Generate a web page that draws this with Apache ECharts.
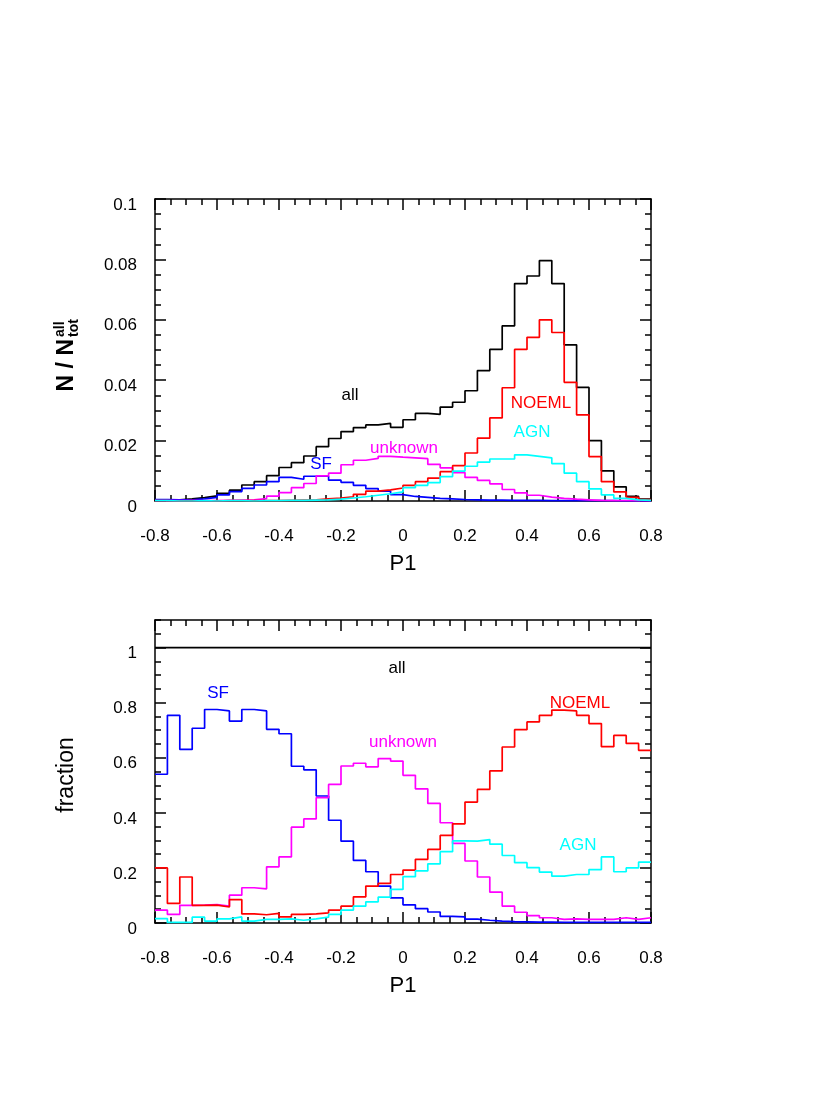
<!DOCTYPE html>
<html>
<head>
<meta charset="utf-8">
<title>P1 histograms</title>
<script src="https://cdn.jsdelivr.net/npm/echarts@6/dist/echarts.min.js"></script>
<style>
  html, body { margin: 0; padding: 0; background: #fff; }
  #chart { width: 830px; height: 1106px; }
</style>
</head>
<body>
<div id="chart"></div>
<script>
// bins of width 0.04 from -0.8 to 0.8 (left edges)
const binLeft = Array.from({ length: 40 }, (_, i) => +(-0.8 + 0.04 * i).toFixed(2))

// top panel: N / N_tot^all
const allTop = [0.0003, 0.0004, 0.0007, 0.0011, 0.0017, 0.0025, 0.0036, 0.0053, 0.0064, 0.0084,
  0.0111, 0.0127, 0.0149, 0.0180, 0.0207, 0.0230, 0.0243, 0.0252, 0.0257, 0.0244,
  0.0269, 0.0290, 0.0287, 0.0311, 0.0327, 0.0365, 0.0432, 0.0502, 0.0580, 0.0720,
  0.0745, 0.0796, 0.0720, 0.0517, 0.0376, 0.0200, 0.0100, 0.0047, 0.0015, 0.0006]
const sfTop = [0.0005, 0.0004, 0.0004, 0.0007, 0.0012, 0.0020, 0.0031, 0.0042, 0.0053, 0.0064,
  0.0078, 0.0072, 0.0082, 0.0082, 0.0069, 0.0062, 0.0052, 0.0041, 0.0033, 0.0021,
  0.0015, 0.0012, 0.0009, 0.0007, 0.0005, 0.0004, 0.0003, 0.0003, 0.0002, 0.0002,
  0.0002, 0.0001, 0.0001, 0.0001, 0.0001, 0.0001, 0.0001, 0.0000, 0.0000, 0.0000]
const unknownTop = [0.0001, 0.0001, 0.0001, 0.0001, 0.0001, 0.0002, 0.0003, 0.0004, 0.0008, 0.0016,
  0.0028, 0.0044, 0.0058, 0.0083, 0.0092, 0.0120, 0.0135, 0.0141, 0.0148, 0.0145,
  0.0143, 0.0140, 0.0121, 0.0110, 0.0094, 0.0078, 0.0068, 0.0057, 0.0038, 0.0027,
  0.0019, 0.0013, 0.0009, 0.0006, 0.0004, 0.0002, 0.0001, 0.0001, 0.0001, 0.0001]
const noemlTop = [0.0001, 0.0000, 0.0001, 0.0000, 0.0000, 0.0001, 0.0001, 0.0001, 0.0001, 0.0001,
  0.0002, 0.0003, 0.0004, 0.0007, 0.0010, 0.0014, 0.0022, 0.0033, 0.0037, 0.0043,
  0.0052, 0.0064, 0.0076, 0.0097, 0.0117, 0.0159, 0.0208, 0.0275, 0.0375, 0.0502,
  0.0542, 0.0600, 0.0558, 0.0393, 0.0285, 0.0147, 0.0064, 0.0030, 0.0012, 0.0005]
const agnTop = [0.0001, 0.0000, 0.0000, 0.0001, 0.0000, 0.0001, 0.0001, 0.0000, 0.0001, 0.0001,
  0.0002, 0.0002, 0.0003, 0.0004, 0.0006, 0.0010, 0.0014, 0.0019, 0.0024, 0.0030,
  0.0044, 0.0052, 0.0061, 0.0081, 0.0099, 0.0115, 0.0129, 0.0139, 0.0139, 0.0153,
  0.0148, 0.0143, 0.0124, 0.0092, 0.0064, 0.0040, 0.0020, 0.0009, 0.0004, 0.0002]

// bottom panel: fraction
const allFrac = [1, 1, 1, 1, 1, 1, 1, 1, 1, 1, 1, 1, 1, 1, 1, 1, 1, 1, 1, 1,
  1, 1, 1, 1, 1, 1, 1, 1, 1, 1, 1, 1, 1, 1, 1, 1, 1, 1, 1, 1]
const sfFrac = [0.540, 0.754, 0.630, 0.707, 0.775, 0.770, 0.733, 0.775, 0.770, 0.703,
  0.687, 0.569, 0.556, 0.461, 0.373, 0.297, 0.227, 0.186, 0.134, 0.091,
  0.066, 0.052, 0.040, 0.024, 0.022, 0.014, 0.010, 0.007, 0.005, 0.004,
  0.003, 0.003, 0.002, 0.002, 0.002, 0.002, 0.002, 0.002, 0.002, 0.002]
const unknownFrac = [0.047, 0.031, 0.064, 0.065, 0.067, 0.061, 0.101, 0.128, 0.124, 0.204,
  0.240, 0.348, 0.378, 0.455, 0.503, 0.570, 0.580, 0.567, 0.597, 0.588,
  0.536, 0.487, 0.434, 0.364, 0.289, 0.225, 0.167, 0.112, 0.061, 0.039,
  0.027, 0.019, 0.013, 0.015, 0.013, 0.013, 0.013, 0.019, 0.013, 0.019]
const noemlFrac = [0.200, 0.071, 0.167, 0.064, 0.065, 0.058, 0.085, 0.033, 0.030, 0.035,
  0.022, 0.031, 0.033, 0.037, 0.047, 0.061, 0.095, 0.134, 0.144, 0.176,
  0.192, 0.231, 0.267, 0.318, 0.360, 0.439, 0.485, 0.552, 0.639, 0.702,
  0.730, 0.754, 0.773, 0.770, 0.754, 0.724, 0.640, 0.681, 0.652, 0.627]
const agnFrac = [0.016, 0.002, 0.002, 0.021, 0.007, 0.015, 0.022, 0.007, 0.013, 0.013,
  0.015, 0.010, 0.015, 0.021, 0.031, 0.047, 0.061, 0.077, 0.094, 0.122,
  0.168, 0.189, 0.215, 0.259, 0.298, 0.297, 0.303, 0.286, 0.245, 0.219,
  0.201, 0.185, 0.170, 0.176, 0.176, 0.194, 0.240, 0.186, 0.200, 0.221]

const FONT = '"Liberation Sans", Helvetica, Arial, sans-serif'
const COLORS = { all: '#000000', sf: '#0000ff', unknown: '#ff00ff', noeml: '#ff0000', agn: '#00ffff' }

// histogram steps: left edges + closing point at the right edge
function steps(vals) {
  const pts = binLeft.map((x, i) => [x, vals[i]])
  pts.push([0.8, vals[vals.length - 1]])
  return pts
}

function histSeries(name, vals, color, xi, yi) {
  return {
    name: name,
    type: 'line',
    step: 'end',
    symbol: 'none',
    xAxisIndex: xi,
    yAxisIndex: yi,
    lineStyle: { color: color, width: 1.7 },
    data: steps(vals),
  }
}

const lineBlack = { show: true, onZero: false, lineStyle: { color: '#000', width: 1.5 } }
const lineHidden = { show: false, onZero: false }

function xAx(grid, pos, withLabels) {
  return {
    type: 'value', gridIndex: grid, position: pos,
    min: -0.8, max: 0.8, interval: 0.2,
    axisLine: lineBlack,
    axisTick: { show: true, inside: true, length: 11, lineStyle: { color: '#000', width: 1.5 } },
    minorTick: { show: true, splitNumber: 4, length: 6, lineStyle: { color: '#000', width: 1.5 } },
    splitLine: { show: false },
    axisLabel: { show: withLabels, color: '#000', fontFamily: FONT, fontSize: 17, margin: 27 },
    name: withLabels ? 'P1' : '',
    nameLocation: 'middle',
    nameGap: 52,
    nameTextStyle: { color: '#000', fontFamily: FONT, fontSize: 22 },
  }
}

function yAx(grid, pos, withLabels, max, interval, minor, tickLen, showLine) {
  return {
    type: 'value', gridIndex: grid, position: pos,
    min: 0, max: max, interval: interval,
    axisLine: showLine ? lineBlack : lineHidden,
    axisTick: { show: true, inside: true, length: tickLen, lineStyle: { color: '#000', width: 1.5 } },
    minorTick: { show: minor, splitNumber: 4, length: 6, lineStyle: { color: '#000', width: 1.5 } },
    splitLine: { show: false },
    axisLabel: {
      show: withLabels, color: '#000', fontFamily: FONT, fontSize: 17, margin: 18,
      showMaxLabel: max === 0.1,
      // labels sit a little below their ticks, as in the original
      verticalAlign: 'top', lineHeight: 12,
    },
  }
}

function note(text, x, y, color) {
  return {
    type: 'text', x: x, y: y, z: 50,
    style: { text: text, fill: color, font: '17px ' + FONT, align: 'center', verticalAlign: 'middle' },
  }
}

const chart = echarts.init(document.getElementById('chart'))
chart.setOption({
  animation: false,
  backgroundColor: '#fff',
  grid: [
    { left: 155, top: 199, width: 496, height: 302 },
    { left: 155, top: 620, width: 496, height: 303 },
  ],
  xAxis: [
    xAx(0, 'bottom', true),
    xAx(0, 'top', false),
    xAx(1, 'bottom', true),
    xAx(1, 'top', false),
  ],
  yAxis: [
    yAx(0, 'left', true, 0.1, 0.02, true, 11, true),
    yAx(0, 'right', false, 0.1, 0.02, true, 11, true),
    yAx(1, 'left', true, 1.1, 0.2, false, 11, true),
    yAx(1, 'right', false, 1.1, 0.2, false, 11, true),
    // short ticks every 0.05 on the fraction panel
    yAx(1, 'left', false, 1.1, 0.05, false, 6, false),
    yAx(1, 'right', false, 1.1, 0.05, false, 6, false),
  ],
  series: [
    histSeries('all', allTop, COLORS.all, 0, 0),
    histSeries('SF', sfTop, COLORS.sf, 0, 0),
    histSeries('unknown', unknownTop, COLORS.unknown, 0, 0),
    histSeries('NOEML', noemlTop, COLORS.noeml, 0, 0),
    histSeries('AGN', agnTop, COLORS.agn, 0, 0),
    histSeries('all', allFrac, COLORS.all, 2, 2),
    histSeries('SF', sfFrac, COLORS.sf, 2, 2),
    histSeries('unknown', unknownFrac, COLORS.unknown, 2, 2),
    histSeries('NOEML', noemlFrac, COLORS.noeml, 2, 2),
    histSeries('AGN', agnFrac, COLORS.agn, 2, 2),
  ],
  graphic: [
    // y title, top panel: N / N_tot^all
    {
      type: 'group', x: 67, y: 357, rotation: Math.PI / 2,
      children: [
        { type: 'text', x: 18, y: 0, style: { text: 'N / N', fill: '#000', font: 'bold 23px ' + FONT, align: 'right', verticalAlign: 'middle' } },
        { type: 'text', x: 20, y: -7, style: { text: 'all', fill: '#000', font: 'bold 14px ' + FONT, align: 'left', verticalAlign: 'middle' } },
        { type: 'text', x: 20, y: 7, style: { text: 'tot', fill: '#000', font: 'bold 14px ' + FONT, align: 'left', verticalAlign: 'middle' } },
      ],
    },
    // y title, bottom panel
    {
      type: 'text', x: 67, y: 775, rotation: Math.PI / 2,
      style: { text: 'fraction', fill: '#000', font: '23px ' + FONT, align: 'center', verticalAlign: 'middle' },
    },
    note('all', 350, 395, COLORS.all),
    note('SF', 321, 464, COLORS.sf),
    note('unknown', 404, 448, COLORS.unknown),
    note('NOEML', 541, 403, COLORS.noeml),
    note('AGN', 532, 432, COLORS.agn),
    note('all', 397, 668, COLORS.all),
    note('SF', 218, 693, COLORS.sf),
    note('unknown', 403, 742, COLORS.unknown),
    note('NOEML', 580, 703, COLORS.noeml),
    note('AGN', 578, 845, COLORS.agn),
  ],
})
</script>
</body>
</html>
